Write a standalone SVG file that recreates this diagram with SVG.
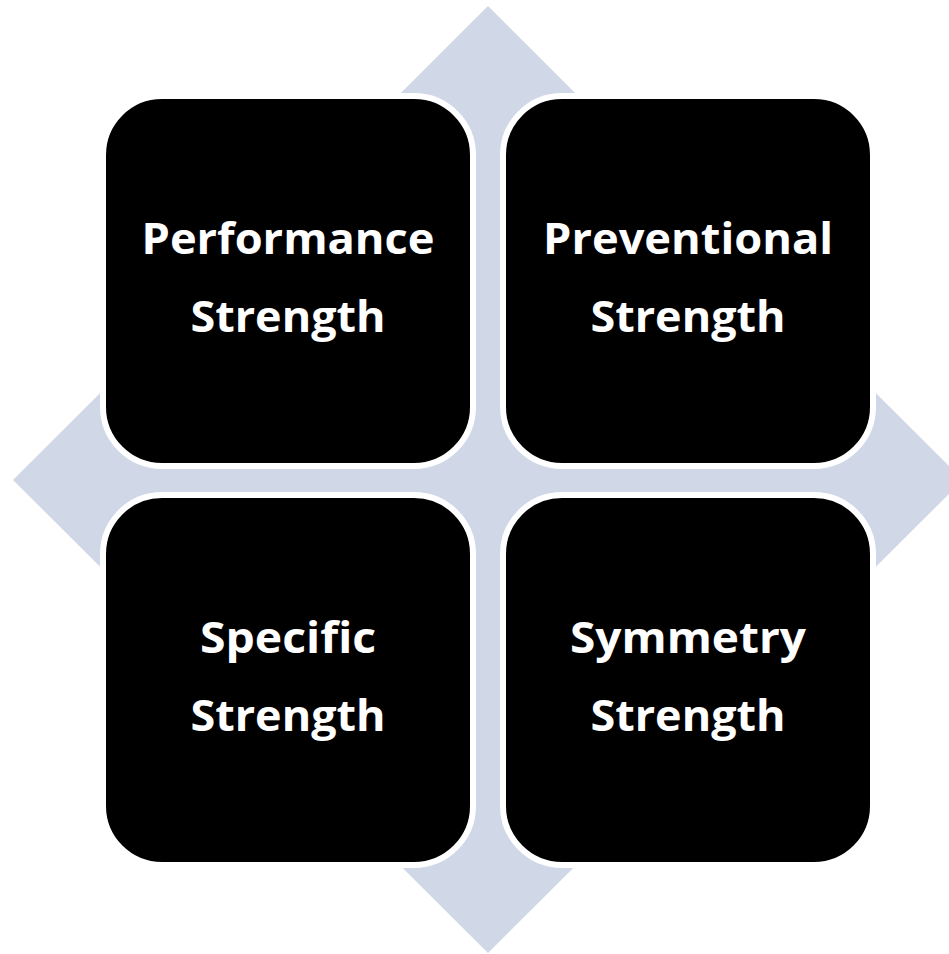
<svg xmlns="http://www.w3.org/2000/svg" width="949" height="954" viewBox="0 0 949 954">
<style>
.box{fill:#000000;stroke:#FFFFFF;stroke-width:6}
.lbl{font-family:"Open Sans","Liberation Sans",sans-serif;font-weight:bold;font-size:43px;fill:#FFFFFF;text-anchor:middle}
</style>
<rect width="949" height="954" fill="#FFFFFF"/>
<g id="background">
<polygon points="488,6 963,480 488,953 13,480" fill="#D0D8E8"/>
</g>
<g id="connectors"></g>
<g id="node-performance">
<rect class="box" x="103" y="96" width="370" height="370" rx="59" ry="59"/>
<text class="lbl" x="288" y="254" textLength="293" lengthAdjust="spacingAndGlyphs">Performance</text>
<text class="lbl" x="288" y="332" textLength="195" lengthAdjust="spacingAndGlyphs">Strength</text>
</g>
<g id="node-preventional">
<rect class="box" x="503" y="96" width="370" height="370" rx="59" ry="59"/>
<text class="lbl" x="688" y="254" textLength="290" lengthAdjust="spacingAndGlyphs">Preventional</text>
<text class="lbl" x="688" y="332" textLength="195" lengthAdjust="spacingAndGlyphs">Strength</text>
</g>
<g id="node-specific">
<rect class="box" x="103" y="495" width="370" height="370" rx="59" ry="59"/>
<text class="lbl" x="288" y="653" textLength="176" lengthAdjust="spacingAndGlyphs">Specific</text>
<text class="lbl" x="288" y="731" textLength="195" lengthAdjust="spacingAndGlyphs">Strength</text>
</g>
<g id="node-symmetry">
<rect class="box" x="503" y="495" width="370" height="370" rx="59" ry="59"/>
<text class="lbl" x="688" y="653" textLength="236" lengthAdjust="spacingAndGlyphs">Symmetry</text>
<text class="lbl" x="688" y="731" textLength="195" lengthAdjust="spacingAndGlyphs">Strength</text>
</g>
</svg>
